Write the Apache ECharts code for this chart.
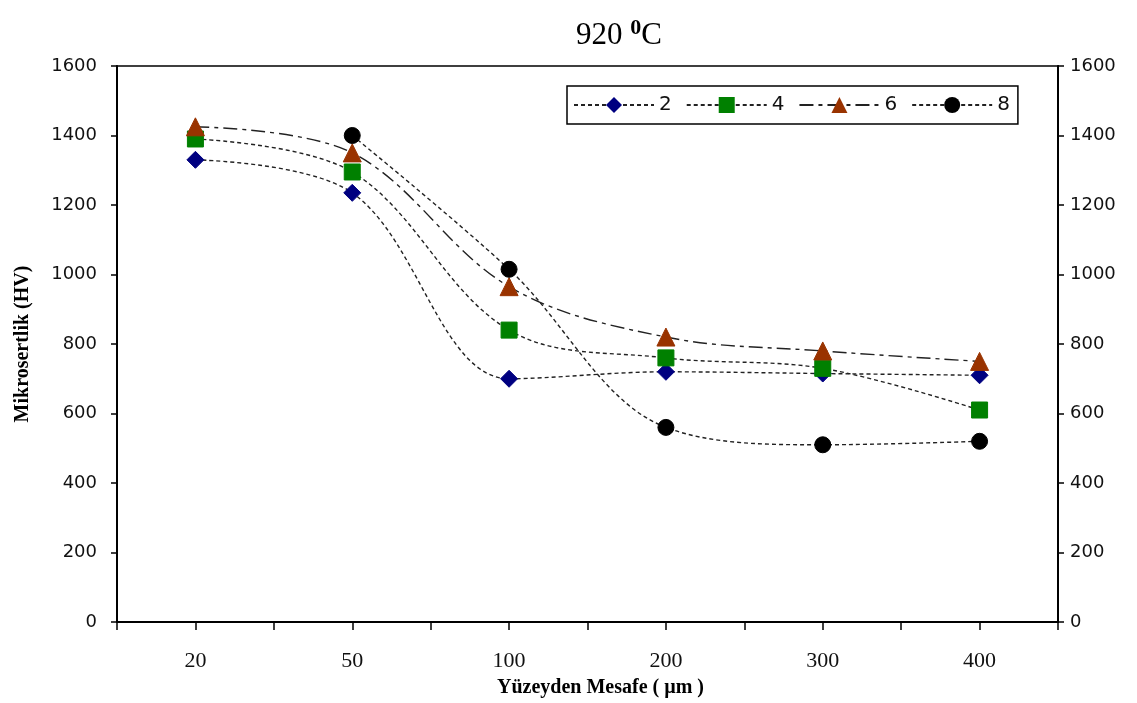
<!DOCTYPE html>
<html><head><meta charset="utf-8">
<script src="https://cdn.jsdelivr.net/npm/echarts@6/dist/echarts.min.js"></script>
<style>html,body{margin:0;padding:0;background:#fff}#c{width:1137px;height:703px}</style>
</head><body><div id="c"></div>
<script>
const categories = ['20','50','100','200','300','400'];
const s2 = [1330, 1235, 700, 720, 715, 710];
const s4 = [1390, 1295, 840, 760, 730, 610];
const s6 = [1425, 1350, 965, 820, 780, 750];
const s8 = [null, 1400, 1015, 560, 510, 520];
const yTicks = [0, 200, 400, 600, 800, 1000, 1200, 1400, 1600];

const chart = echarts.init(document.getElementById('c'));
const lineBase = {color: '#222', width: 1.4};
function mk(name, data, symbol, size, color, dash) {
  return {
    name, type: 'line', data, symbol, symbolSize: size, smooth: 0.35,
    connectNulls: false, showSymbol: true,
    itemStyle: {color, borderColor: color},
    lineStyle: Object.assign({}, lineBase, {type: dash}),
    emphasis: {disabled: true}
  };
}
chart.setOption({
  animation: false,
  title: {
    text: '{a|920 }{b|0}{a|C}', left: 614, top: 12, textAlign: 'center',
    textStyle: {rich: {
      a: {fontFamily: 'Liberation Serif', fontWeight: 'normal', fontSize: 31, color: '#000'},
      b: {fontFamily: 'Liberation Serif', fontWeight: 'bold', fontSize: 22, color: '#000', padding: [0, 0, 16, 0]}
    }}
  },
  legend: {
    left: 567, top: 86, width: 453, height: 28,
    padding: [9, 8, 9, 6], itemGap: 14, itemWidth: 80, itemHeight: 20,
    borderColor: '#000', borderWidth: 1.5,
    textStyle: {fontFamily: 'DejaVu Sans', fontSize: 20, color: '#111'},
    data: ['2', '4', '6', '8']
  },
  grid: {left: 117, right: 79, top: 66, bottom: 81, show: true, borderColor: '#000', borderWidth: 1.5,
    containLabel: false, outerBoundsMode: 'none'},
  xAxis: [{
    type: 'category', data: categories, boundaryGap: true,
    axisLine: {lineStyle: {color: '#000', width: 2}},
    axisTick: {show: true, length: 8, lineStyle: {color: '#000', width: 1.5}},
    axisLabel: {margin: 28, fontFamily: 'Liberation Serif', fontSize: 22, color: '#111'},
    name: 'Yüzeyden Mesafe ( µm )', nameLocation: 'middle', nameGap: 56,
    nameTextStyle: {fontFamily: 'Liberation Serif', fontWeight: 'bold', fontSize: 20, color: '#000', padding: [0, 0, 0, 26]}
  }, {
    type: 'category', data: categories, position: 'bottom', boundaryGap: true,
    axisLine: {show: false},
    axisTick: {show: true, alignWithLabel: true, length: 8, lineStyle: {color: '#000', width: 1.5}},
    axisLabel: {show: false}
  }],
  yAxis: [{
    type: 'value', min: 0, max: 1600, interval: 200, position: 'left',
    axisLine: {show: true, lineStyle: {color: '#000', width: 2}},
    axisTick: {show: true, length: 6, lineStyle: {color: '#000', width: 1.5}},
    splitLine: {show: false},
    axisLabel: {margin: 20, fontFamily: 'DejaVu Sans', fontSize: 18, color: '#111',
      formatter: v => yTicks.includes(v) ? String(v) : ''},
    name: 'Mikrosertlik (HV)', nameLocation: 'middle', nameGap: 84,
    nameTextStyle: {fontFamily: 'Liberation Serif', fontWeight: 'bold', fontSize: 20, color: '#000'}
  }, {
    type: 'value', min: 0, max: 1600, interval: 200, position: 'right',
    axisLine: {show: true, lineStyle: {color: '#000', width: 2}},
    axisTick: {show: true, length: 6, lineStyle: {color: '#000', width: 1.5}},
    splitLine: {show: false},
    axisLabel: {margin: 12, fontFamily: 'DejaVu Sans', fontSize: 18, color: '#111',
      formatter: v => yTicks.includes(v) ? String(v) : ''}
  }],
  series: [
    mk('2', s2, 'diamond', 17, '#000080', [4, 3]),
    mk('4', s4, 'rect', 16, '#008000', [4, 3]),
    mk('6', s6, 'triangle', 18, '#993300', [14, 5, 4, 5]),
    mk('8', s8, 'circle', 16, '#000000', [4, 3])
  ]
});
</script></body></html>
